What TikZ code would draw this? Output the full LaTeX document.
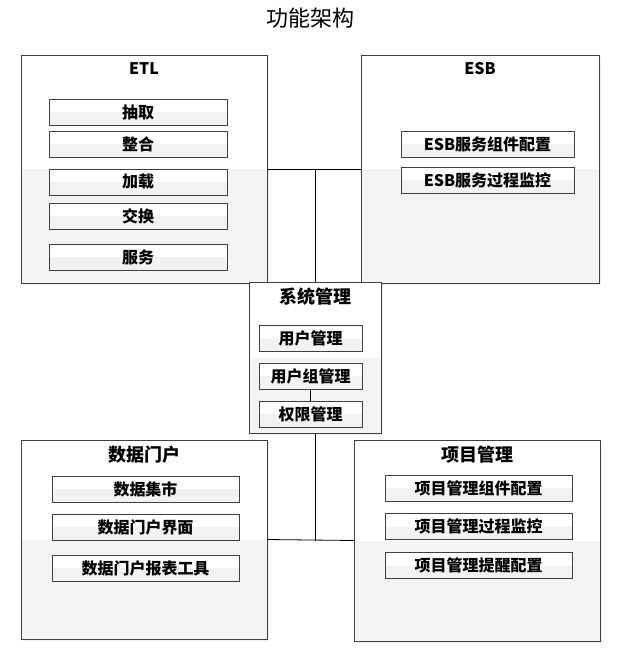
\documentclass[tikz,border=0pt]{standalone}
\usepackage{fontspec}
\setmainfont{Noto Sans CJK SC}
\usetikzlibrary{positioning,shadows}
\definecolor{frame}{RGB}{64,64,64}
\definecolor{lowfill}{RGB}{244,244,244}
\definecolor{itemlow}{RGB}{242,242,242}

\begin{document}
\begin{tikzpicture}[x=1pt, y=-1pt,
    group/.style={rectangle, draw=frame, fill=white, inner sep=0pt,
                  drop shadow={shadow xshift=2pt, shadow yshift=-2pt, opacity=0.12},
                  path picture={\fill[lowfill] (path picture bounding box.west) rectangle (path picture bounding box.south east);}},
    grouptitle/.style={inner sep=0pt, font=\bfseries\fontsize{18}{20}\selectfont},
    item/.style={rectangle, draw=frame, fill=white, inner sep=0pt, minimum height=26pt,
                 font=\bfseries\fontsize{16}{18}\selectfont,
                 path picture={\fill[itemlow] (path picture bounding box.west) rectangle (path picture bounding box.south east);}},
    link/.style={draw=black, line width=0.8pt}
  ]
    \useasboundingbox (0,0) rectangle (628,649);
    \node[font=\fontsize{22}{24}\selectfont] (title) at (310,18) {功能架构};

    \node[group, minimum width=246pt, minimum height=228pt] (etl) at (144,169) {};
    \node[grouptitle, font=\bfseries\fontsize{16}{18}\selectfont] (etlt) at (144,69) {ETL};
    \node[item, minimum width=178pt] (extract) at (138,112) {抽取};
    \node[item, minimum width=178pt] (merge) at (138,144) {整合};
    \node[item, minimum width=178pt] (load) at (138,182) {加载};
    \node[item, minimum width=178pt] (swap) at (138,216) {交换};
    \node[item, minimum width=178pt] (serve) at (138,257) {服务};

    \node[group, minimum width=238pt, minimum height=228pt] (esb) at (480,169) {};
    \node[grouptitle, font=\bfseries\fontsize{16}{18}\selectfont] (esbt) at (480,69) {ESB};
    \node[item, minimum width=173pt] (esbcfg) at (487.5,144) {ESB服务组件配置};
    \node[item, minimum width=173pt] (esbmon) at (487.5,180) {ESB服务过程监控};

    \node[group, minimum width=132pt, minimum height=151pt] (sys) at (315,357.5) {};
    \node[grouptitle] (syst) at (315,297) {系统管理};
    \node[item, minimum width=103pt] (user) at (310.5,338.5) {用户管理};
    \node[item, minimum width=103pt] (ugroup) at (310.5,376) {用户组管理};
    \node[item, minimum width=103pt] (perm) at (310.5,414) {权限管理};

    \node[group, minimum width=246pt, minimum height=199pt] (portal) at (144,539.5) {};
    \node[grouptitle] (portalt) at (144,455) {数据门户};
    \node[item, minimum width=187pt] (mart) at (145.5,489) {数据集市};
    \node[item, minimum width=187pt] (ui) at (145.5,527) {数据门户界面};
    \node[item, minimum width=187pt] (report) at (145.5,568) {数据门户报表工具};

    \node[group, minimum width=246pt, minimum height=201pt] (proj) at (477,540.5) {};
    \node[grouptitle] (projt) at (477,455) {项目管理};
    \node[item, minimum width=187pt] (projcfg) at (478.5,488) {项目管理组件配置};
    \node[item, minimum width=187pt] (projmon) at (478.5,526.5) {项目管理过程监控};
    \node[item, minimum width=187pt] (projalert) at (478.5,565.5) {项目管理提醒配置};

    \draw[link] (etl.east) -- (esb.west);
    \draw[link] (sys.north) -- (sys.north |- etl.east);
    \draw[link] (ugroup) -- (perm);
    \draw[link] (portal.east) -- (proj.west);
    \draw[link] (sys.south) -- (sys.south |- proj.west);
  \end{tikzpicture}
\end{document}
